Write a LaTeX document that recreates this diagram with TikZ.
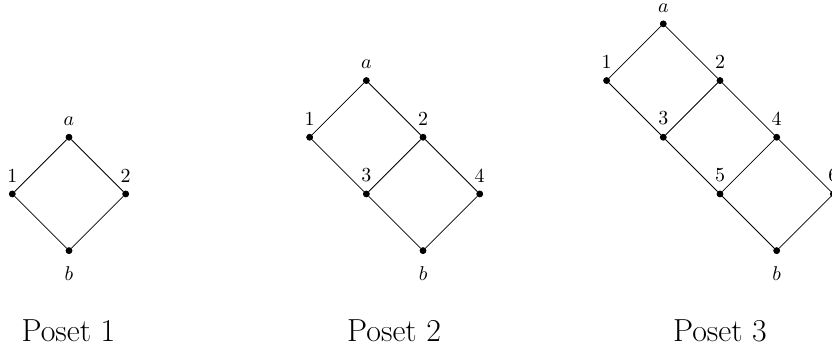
\documentclass[tikz,border=0pt]{standalone}
\usepackage{amsmath}
\usepackage{amsfonts}

\begin{document}
\begin{tikzpicture}[vtx/.style={draw,circle,fill=black,inner sep=0pt,minimum size=3pt},
	label distance=0.7pt,
	lowlab/.style={label={[label distance=2.7pt]below:{$#1$}}},
	postitle/.style={anchor=base,font=\fontsize{16}{19}\selectfont}]
			\useasboundingbox (0,0) rectangle (14.676,6.121);
			% Poset 1
			\node[vtx,label=above:{$a$}] (1a)at(1.217,3.70) {};
			\node[vtx,label=above:{1}] (11)at(0.217,2.70) {};
			\node[vtx,label=above:{2}] (12)at(2.217,2.70) {};
			\node[vtx,lowlab=b] (1b)at(1.217,1.70) {};
			\node[postitle] (T1)at(1.207,0.106) {Poset 1};
			\draw (1a) -- (11);
			\draw (1a) -- (12);
			\draw (11) -- (1b);
			\draw (12) -- (1b);
			% Poset 2
			\node[vtx,label=above:{$a$}] (2a)at(6.462,4.70) {};
			\node[vtx,label=above:{1}] (21)at(5.462,3.70) {};
			\node[vtx,label=above:{2}] (22)at(7.462,3.70) {};
			\node[vtx,label=above:{3}] (23)at(6.462,2.70) {};
			\node[vtx,label=above:{4}] (24)at(8.462,2.70) {};
			\node[vtx,lowlab=b] (2b)at(7.462,1.70) {};
			\node[postitle] (T2)at(6.952,0.106) {Poset 2};
			\draw (2a) -- (21);
			\draw (2a) -- (22);
			\draw (21) -- (23);
			\draw (22) -- (23);
			\draw (22) -- (24);
			\draw (23) -- (2b);
			\draw (24) -- (2b);
			% Poset 3
			\node[vtx,label=above:{$a$}] (3a)at(11.70,5.70) {};
			\node[vtx,label=above:{1}] (31)at(10.70,4.70) {};
			\node[vtx,label=above:{2}] (32)at(12.70,4.70) {};
			\node[vtx,label=above:{3}] (33)at(11.70,3.70) {};
			\node[vtx,label=above:{4}] (34)at(13.70,3.70) {};
			\node[vtx,label=above:{5}] (35)at(12.70,2.70) {};
			\node[vtx,label=above:{6}] (36)at(14.70,2.70) {};
			\node[vtx,lowlab=b] (3b)at(13.70,1.70) {};
			\node[postitle] (T3)at(12.70,0.106) {Poset 3};
			\draw (3a) -- (31);
			\draw (3a) -- (32);
			\draw (31) -- (33);
			\draw (32) -- (33);
			\draw (32) -- (34);
			\draw (33) -- (35);
			\draw (34) -- (35);
			\draw (34) -- (36);
			\draw (35) -- (3b);
			\draw (36) -- (3b);
			\end{tikzpicture}
\end{document}
